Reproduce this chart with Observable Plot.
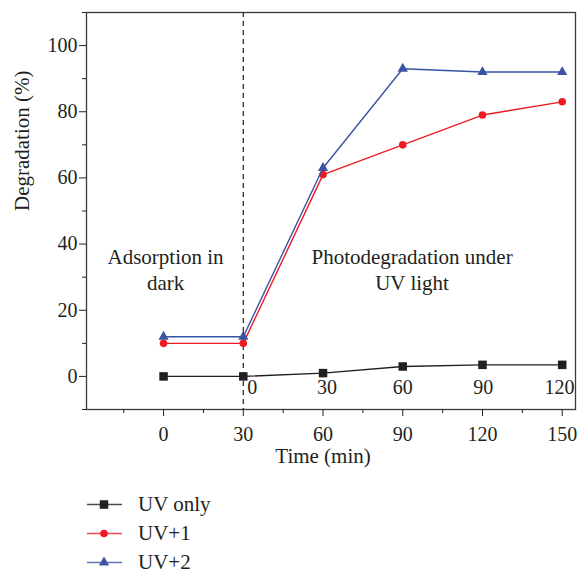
<!DOCTYPE html>
<html>
<head>
<meta charset="utf-8">
<script src="https://cdn.jsdelivr.net/npm/d3@7"></script>
<script src="https://cdn.jsdelivr.net/npm/@observablehq/plot@0.6"></script>
<style>
  html, body { margin: 0; padding: 0; background: white; overflow: hidden; }
  #legend { font-family: "Liberation Serif", serif; font-size: 21px; color: #231f20; padding-top: 10px; padding-left: 87px; }
  .row { height: 29px; display: flex; align-items: center; }
  .row svg { display: block; }
  .row span { margin-left: 15px; }
</style>
</head>
<body>
<div id="chart"></div>
<div id="legend"></div>
<script>
// ---- data ----
const times = [0, 30, 60, 90, 120, 150];
const seriesNames = ["UV only", "UV+1", "UV+2"];
const uvOnly = [0, 0, 1, 3, 3.5, 3.5];
const uv1 = [10, 10, 61, 70, 79, 83];
const uv2 = [12, 12, 63, 93, 92, 92];
const xTicks = [0, 30, 60, 90, 120, 150];
const xMinorTicks = [-15, 15, 45, 75, 105, 135];
const yTicks = [0, 20, 40, 60, 80, 100];
const yMinorTicks = [-10, 10, 30, 50, 70, 90, 110];
const uvTimeLabels = ["0", "30", "60", "90", "120"];
const uvTimeX = [33.4, 61.5, 90, 120.3, 149];
const uvTimeY = -3.3;
const phaseLabels = ["Adsorption in\ndark", "Photodegradation under\nUV light"];
const phaseX = [0.75, 93.5];
const phaseY = 32.7;
const darkEnd = 30;

const colors = ["#231f20", "#ed1c24", "#3a53a4"];
const symbols = ["square", "circle", "triangle"];
const radii = [4.8, 3.8, 3.8];

const values = [uvOnly, uv1, uv2];
const rows = [];
seriesNames.forEach((s, i) => times.forEach((t, j) => rows.push({series: s, time: t, value: values[i][j]})));

const marks = [
  Plot.frame({stroke: "#3a3a3a", strokeWidth: 1.3}),
  Plot.axisX({ticks: xTicks, tickSize: 7, tickPadding: 10, label: null, fontSize: 20}),
  Plot.axisX({ticks: xMinorTicks, tickSize: 4, text: null, label: null}),
  Plot.axisY({ticks: yTicks, tickSize: 7, tickPadding: 2, label: null, fontSize: 20}),
  Plot.axisY({ticks: yMinorTicks, tickSize: 4, text: null, label: null}),
  Plot.ruleX([darkEnd], {stroke: "#231f20", strokeWidth: 1.2, strokeDasharray: "5,4"}),
];
seriesNames.forEach((s, i) => {
  const d = rows.filter(r => r.series === s);
  marks.push(Plot.line(d, {x: "time", y: "value", stroke: colors[i], strokeWidth: 1.4}));
  marks.push(Plot.dot(d, {x: "time", y: "value", fill: colors[i], symbol: symbols[i], r: radii[i]}));
});
marks.push(
  Plot.text(uvTimeLabels, {x: (d, i) => uvTimeX[i], y: () => uvTimeY, text: d => d, fontSize: 20}),
  Plot.text(phaseLabels, {x: (d, i) => phaseX[i], y: () => phaseY, text: d => d, lineHeight: 1.24, lineAnchor: "middle", fontSize: 21}),
  Plot.text(["Degradation (%)"], {frameAnchor: "left", rotate: -90, dx: -64, fontSize: 21}),
  Plot.text(["Time (min)"], {x: () => 60, frameAnchor: "bottom", dy: 53, fontSize: 21})
);

const chart = Plot.plot({
  width: 580,
  height: 480,
  marginLeft: 86,
  marginRight: 5,
  marginTop: 12,
  marginBottom: 71,
  x: {domain: [-29, 155]},
  y: {domain: [-10, 110]},
  style: {fontFamily: "Liberation Serif", fontSize: "21px", color: "#231f20", background: "white"},
  marks
});
document.getElementById("chart").appendChild(chart);

// legend
const legend = document.getElementById("legend");
seriesNames.forEach((s, i) => {
  const row = document.createElement("div");
  row.className = "row";
  const svg = d3.create("svg").attr("width", 36).attr("height", 29);
  svg.append("line").attr("x1", 0).attr("x2", 35).attr("y1", 14.5).attr("y2", 14.5)
    .attr("stroke", colors[i]).attr("stroke-width", 1.6).attr("opacity", 0.8);
  svg.append("path").attr("transform", "translate(17,14.5)")
    .attr("d", d3.symbol(i === 0 ? d3.symbolSquare : i === 1 ? d3.symbolCircle : d3.symbolTriangle, radii[i] * radii[i] * Math.PI)())
    .attr("fill", colors[i]);
  row.appendChild(svg.node());
  const span = document.createElement("span");
  span.textContent = s;
  row.appendChild(span);
  legend.appendChild(row);
});
</script>
</body>
</html>
